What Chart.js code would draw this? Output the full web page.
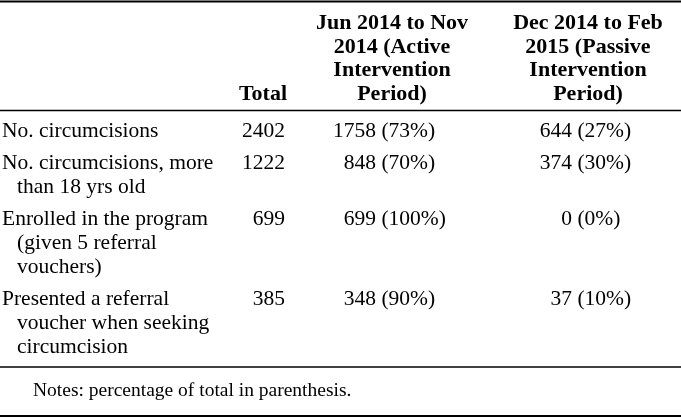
<!DOCTYPE html>
<html>
<head>
<meta charset="utf-8">
<script src="https://cdn.jsdelivr.net/npm/chart.js@4/dist/chart.umd.min.js"></script>
<style>
  html, body { margin: 0; padding: 0; background: #fff; }
  #wrap { width: 681px; height: 418px; position: relative; }
</style>
</head>
<body>
<div id="wrap"><canvas id="myCanvas"></canvas></div>
<script>
// table data
const rowLabels = [
  ["No. circumcisions"],
  ["No. circumcisions, more", "than 18 yrs old"],
  ["Enrolled in the program", "(given 5 referral", "vouchers)"],
  ["Presented a referral", "voucher when seeking", "circumcision"]
];
const totals = [2402, 1222, 699, 385];
const activeCounts = [1758, 848, 699, 348];
const activePct = [73, 70, 100, 90];
const passiveCounts = [644, 374, 0, 37];
const passivePct = [27, 30, 0, 10];
const totalHeader = "Total";
const activeHeader = ["Jun 2014 to Nov", "2014 (Active", "Intervention", "Period)"];
const passiveHeader = ["Dec 2014 to Feb", "2015 (Passive", "Intervention", "Period)"];
const note = "Notes: percentage of total in parenthesis.";

// layout (in scale units = px)
const layout = {
  labelX: 2, indent: 15,
  totalHeadRight: 287, totalRight: 285,
  activeNum: 376, activeHead: 392,
  passiveNum: 572, passiveHead: 588,
  headBase: 29, headLine: 23.5,
  bodyBase: 137, bodyLine: 24, rowGap: 8,
  rules: [[1.5, 2], [110.5, 1.5], [367, 1.5], [416, 2]],
  noteX: 33, noteBase: 396
};

const tablePlugin = {
  id: 'tablePlugin',
  afterDraw(chart) {
    const ctx = chart.ctx;
    const xs = chart.scales.x, ys = chart.scales.y;
    const X = v => xs.getPixelForValue(v);
    const Y = v => ys.getPixelForValue(v);
    ctx.save();
    ctx.fillStyle = '#000';
    ctx.strokeStyle = '#000';
    ctx.textBaseline = 'alphabetic';

    // rules
    layout.rules.forEach(([y, w]) => {
      ctx.lineWidth = w;
      ctx.beginPath();
      ctx.moveTo(X(0), Y(y));
      ctx.lineTo(X(681), Y(y));
      ctx.stroke();
    });

    // header
    ctx.font = 'bold 22px "Liberation Serif"';
    ctx.textAlign = 'right';
    ctx.fillText(totalHeader, X(layout.totalHeadRight), Y(layout.headBase + 3 * layout.headLine));
    ctx.textAlign = 'center';
    activeHeader.forEach((t, i) => {
      ctx.fillText(t, X(layout.activeHead), Y(layout.headBase + i * layout.headLine));
    });
    passiveHeader.forEach((t, i) => {
      ctx.fillText(t, X(layout.passiveHead), Y(layout.headBase + i * layout.headLine));
    });

    // body
    ctx.font = '21.5px "Liberation Serif"';
    let y = layout.bodyBase;
    rowLabels.forEach((lines, r) => {
      ctx.textAlign = 'left';
      lines.forEach((t, k) => {
        ctx.fillText(t, X(layout.labelX + (k > 0 ? layout.indent : 0)), Y(y + k * layout.bodyLine));
      });
      ctx.textAlign = 'right';
      ctx.fillText(String(totals[r]), X(layout.totalRight), Y(y));
      ctx.fillText(String(activeCounts[r]), X(layout.activeNum), Y(y));
      ctx.fillText(String(passiveCounts[r]), X(layout.passiveNum), Y(y));
      ctx.textAlign = 'left';
      ctx.fillText(' (' + activePct[r] + '%)', X(layout.activeNum), Y(y));
      ctx.fillText(' (' + passivePct[r] + '%)', X(layout.passiveNum), Y(y));
      y += lines.length * layout.bodyLine + layout.rowGap;
    });

    // notes
    ctx.font = '19.5px "Liberation Serif"';
    ctx.textAlign = 'left';
    ctx.fillText(note, X(layout.noteX), Y(layout.noteBase));
    ctx.restore();
  }
};

const ctx = document.getElementById('myCanvas').getContext('2d');
new Chart(ctx, {
  type: 'scatter',
  data: { datasets: [] },
  options: {
    responsive: true,
    maintainAspectRatio: false,
    animation: false,
    layout: { padding: 0 },
    plugins: { legend: { display: false }, tooltip: { enabled: false } },
    scales: {
      x: { type: 'linear', min: 0, max: 681, display: false },
      y: { type: 'linear', min: 0, max: 418, reverse: true, display: false }
    }
  },
  plugins: [tablePlugin]
});
</script>
</body>
</html>
